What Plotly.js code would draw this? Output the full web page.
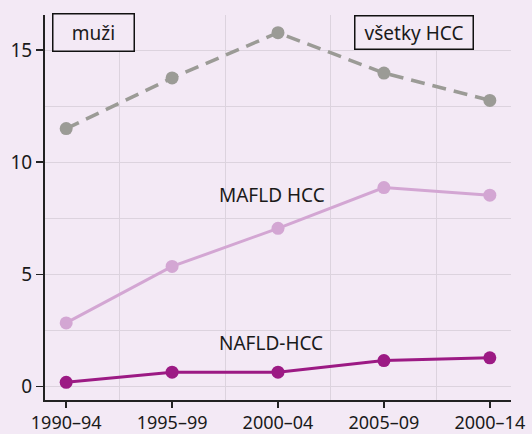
<!DOCTYPE html>
<html>
<head>
<meta charset="utf-8">
<script src="https://cdn.plot.ly/plotly-3.0.1.min.js"></script>
<style>html,body{margin:0;padding:0;background:#f3e9f5;}#chart{width:532px;height:434px;}</style>
</head>
<body>
<div id="chart"></div>
<script>
const categories = ["1990–94", "1995–99", "2000–04", "2005–09", "2000–14"];
const allHCC = [11.5, 13.76, 15.78, 13.98, 12.76];
const mafldHCC = [2.83, 5.35, 7.05, 8.87, 8.53];
const nafldHCC = [0.18, 0.63, 0.63, 1.15, 1.27];
const seriesNames = ["všetky HCC", "MAFLD HCC", "NAFLD-HCC"];
const panelLabel = "muži";

const xIdx = categories.map((_, i) => i);
const font = {family: "Noto Sans, Open Sans, sans-serif", size: 19, color: "#1a1a1a"};
const xTickFont = {family: "Noto Sans, Open Sans, sans-serif", size: 18, color: "#1a1a1a"};

const traces = [
  {x: xIdx, y: allHCC, name: seriesNames[0], mode: "lines+markers",
   line: {color: "#9b9b96", width: 3.5, dash: "14px,8px"}, marker: {color: "#9b9b96", size: 13}},
  {x: xIdx, y: mafldHCC, name: seriesNames[1], mode: "lines+markers",
   line: {color: "#d3a6d3", width: 3}, marker: {color: "#d3a6d3", size: 13}},
  {x: xIdx, y: nafldHCC, name: seriesNames[2], mode: "lines+markers",
   line: {color: "#9c1a84", width: 3}, marker: {color: "#9c1a84", size: 13}}
];

const layout = {
  width: 532, height: 434,
  margin: {l: 45, r: 21, t: 15, b: 34},
  paper_bgcolor: "#f3e9f5", plot_bgcolor: "#f3e9f5",
  showlegend: false,
  font: font,
  xaxis: {
    range: [-0.2, 4.2], tickvals: xIdx, ticktext: categories,
    showgrid: false, zeroline: false,
    showline: true, linecolor: "#222", linewidth: 2,
    ticks: "outside", ticklen: 6, tickwidth: 1.5, tickcolor: "#222",
    ticklabelstandoff: -1,
    tickfont: xTickFont,
    minor: {tick0: 0.5, dtick: 1, showgrid: true, gridcolor: "#dcd3de", gridwidth: 1, ticks: ""}
  },
  yaxis: {
    range: [-0.61, 16.57], tickvals: [0, 5, 10, 15],
    showgrid: true, gridcolor: "#dcd3de", gridwidth: 1, zeroline: false,
    showline: true, linecolor: "#222", linewidth: 2,
    ticks: "outside", ticklen: 7, tickwidth: 1.5, tickcolor: "#222",
    tickfont: font,
    minor: {tick0: 2.5, dtick: 5, showgrid: true, gridcolor: "#dcd3de", gridwidth: 1, ticks: ""}
  },
  annotations: [
    {xref: "paper", yref: "paper", x: 0.104, y: 0.955, xanchor: "center", yanchor: "middle",
     text: panelLabel, showarrow: false, font: font,
     bordercolor: "#111", borderwidth: 1.5, borderpad: 3, bgcolor: "#f3e9f5",
     width: 74, height: 30, align: "center"},
    {xref: "paper", yref: "paper", x: 0.792, y: 0.955, xanchor: "center", yanchor: "middle",
     text: seriesNames[0], showarrow: false, font: font,
     bordercolor: "#111", borderwidth: 1.5, borderpad: 3, bgcolor: "#f3e9f5",
     width: 111, height: 26, align: "center"},
    {xref: "x", yref: "y", x: 1.94, y: 8.55, xanchor: "center", yanchor: "middle",
     text: seriesNames[1], showarrow: false, font: font},
    {xref: "x", yref: "y", x: 1.93, y: 1.95, xanchor: "center", yanchor: "middle",
     text: seriesNames[2], showarrow: false, font: font}
  ]
};

Plotly.newPlot("chart", traces, layout, {displayModeBar: false, staticPlot: true});
</script>
</body>
</html>
